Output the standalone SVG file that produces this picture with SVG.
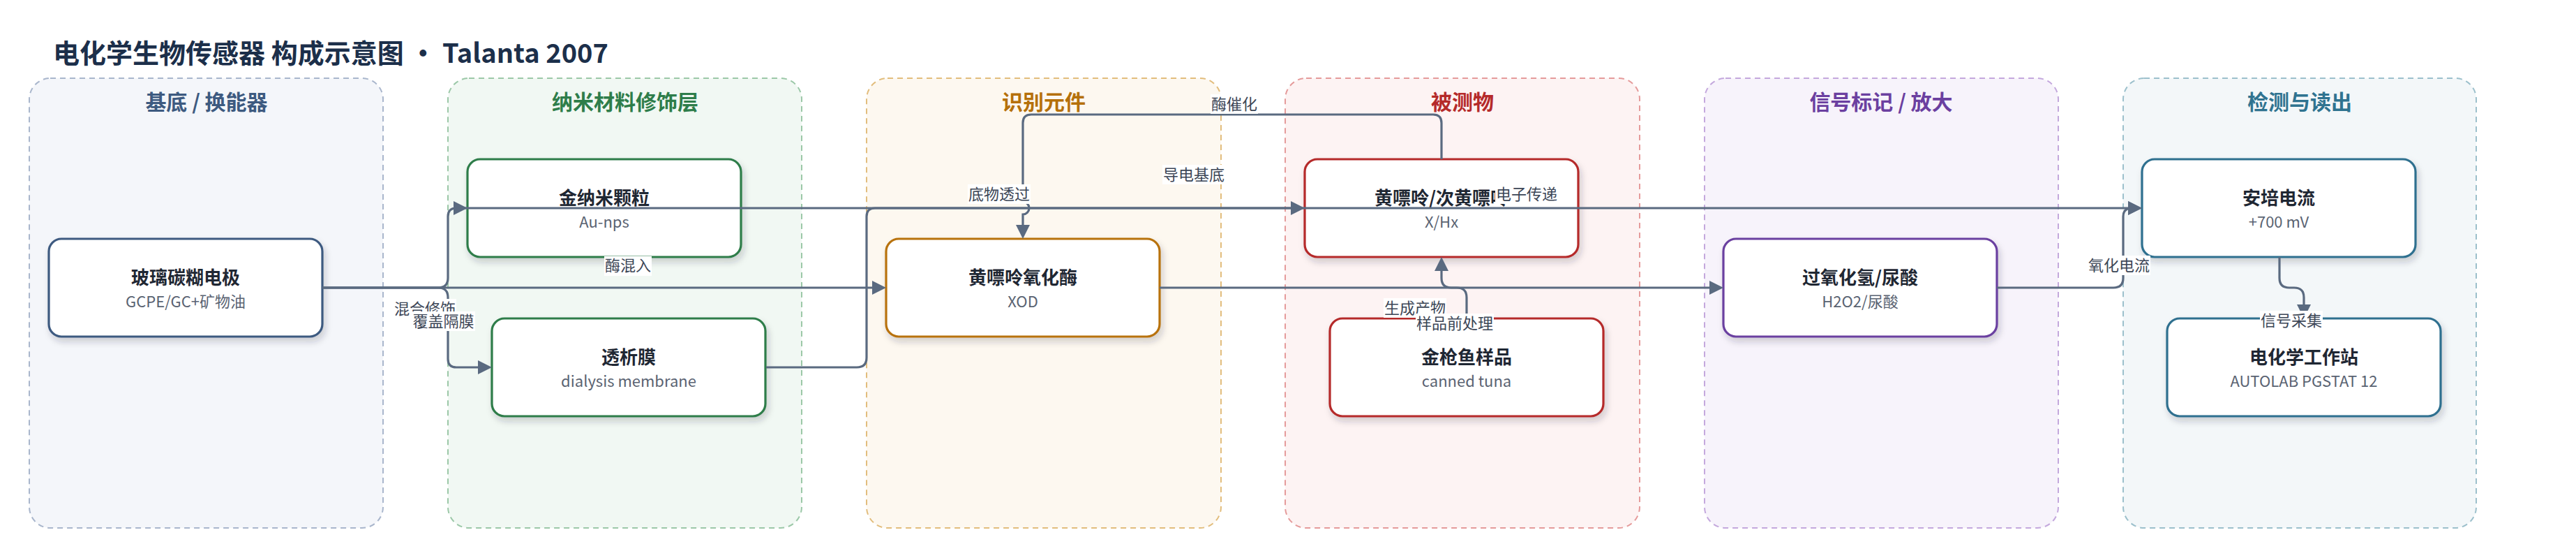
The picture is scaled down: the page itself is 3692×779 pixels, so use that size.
<svg xmlns="http://www.w3.org/2000/svg" width="3692" height="779" viewBox="0 0 3692 779">
<defs>
<style>
text{font-family:"Noto Sans CJK SC","Noto Sans",sans-serif}
.title{font-size:38px;font-weight:700;fill:#1c2f4a}
.grp{stroke-width:2;stroke-dasharray:8 6}
.gt{font-size:30px;font-weight:700;text-anchor:middle}
.node{fill:#ffffff;stroke-width:3.2;filter:url(#sh)}
.nt{font-size:26px;font-weight:700;fill:#1f2733;text-anchor:middle}
.ns{font-size:22px;fill:#5a6372;text-anchor:middle}
.edge{fill:none;stroke:#5a6a80;stroke-width:3.2;marker-end:url(#arr)}
.line{fill:none;stroke:#5a6a80;stroke-width:3.2}
.lb{fill:#ffffff}
.lt{font-size:22px;fill:#3c4656;text-anchor:middle}
</style>
<filter id="sh" x="-10%" y="-10%" width="125%" height="135%">
<feDropShadow dx="3" dy="6" stdDeviation="5" flood-color="#1f2937" flood-opacity="0.2"/>
</filter>
<marker id="arr" viewBox="0 0 20 20" refX="8" refY="10" markerWidth="20" markerHeight="20" markerUnits="userSpaceOnUse" orient="auto">
<path d="M0,0 L20,10 L0,20 z" fill="#5a6a80"/>
</marker>
</defs>
<rect width="3692" height="779" fill="#ffffff"/>
<text class="title" x="76" y="90">电化学生物传感器 构成示意图 · Talanta 2007</text>

<g id="groups">
<g id="g-base"><rect class="grp" x="42" y="112" width="507" height="644" rx="30" fill="#f4f6fa" stroke="#a9b6cc"/><text class="gt" x="296" y="157" fill="#3d5a80">基底 / 换能器</text></g>
<g id="g-nano"><rect class="grp" x="642" y="112" width="507" height="644" rx="30" fill="#f1f8f3" stroke="#9cc8a8"/><text class="gt" x="896" y="157" fill="#2e7d4a">纳米材料修饰层</text></g>
<g id="g-recog"><rect class="grp" x="1242" y="112" width="508" height="644" rx="30" fill="#fdf8f0" stroke="#e2bd7d"/><text class="gt" x="1496" y="157" fill="#b5700a">识别元件</text></g>
<g id="g-analyte"><rect class="grp" x="1842" y="112" width="508" height="644" rx="30" fill="#fdf3f3" stroke="#e59b9b"/><text class="gt" x="2096" y="157" fill="#b52a2a">被测物</text></g>
<g id="g-signal"><rect class="grp" x="2443" y="112" width="507" height="644" rx="30" fill="#f7f3fb" stroke="#c4a8dd"/><text class="gt" x="2696" y="157" fill="#6b3fa0">信号标记 / 放大</text></g>
<g id="g-detect"><rect class="grp" x="3043" y="112" width="506" height="644" rx="30" fill="#f3f7f9" stroke="#9cc0cc"/><text class="gt" x="3296" y="157" fill="#2f7390">检测与读出</text></g>
</g>

<g id="n-gcpe"><rect class="node" x="70" y="342" width="392" height="140" rx="18" stroke="#3d5a80"/><text class="nt" x="266" y="407">玻璃碳糊电极</text><text class="ns" x="266" y="440">GCPE/GC+矿物油</text></g>
<g id="n-au"><rect class="node" x="670" y="228" width="392" height="140" rx="18" stroke="#2e7d4a"/><text class="nt" x="866" y="293">金纳米颗粒</text><text class="ns" x="866" y="326">Au-nps</text></g>
<g id="n-dm"><rect class="node" x="705" y="456" width="392" height="140" rx="18" stroke="#2e7d4a"/><text class="nt" x="901" y="521">透析膜</text><text class="ns" x="901" y="554">dialysis membrane</text></g>
<g id="n-xod"><rect class="node" x="1270" y="342" width="392" height="140" rx="18" stroke="#b8720a"/><text class="nt" x="1466" y="407">黄嘌呤氧化酶</text><text class="ns" x="1466" y="440">XOD</text></g>
<g id="n-xhx"><rect class="node" x="1870" y="228" width="392" height="140" rx="18" stroke="#b52a2a"/><text class="nt" x="2066" y="293">黄嘌呤/次黄嘌呤</text><text class="ns" x="2066" y="326">X/Hx</text></g>
<g id="n-tuna"><rect class="node" x="1906" y="456" width="392" height="140" rx="18" stroke="#b52a2a"/><text class="nt" x="2102" y="521">金枪鱼样品</text><text class="ns" x="2102" y="554">canned tuna</text></g>
<g id="n-h2o2"><rect class="node" x="2470" y="342" width="392" height="140" rx="18" stroke="#6b3fa0"/><text class="nt" x="2666" y="407">过氧化氢/尿酸</text><text class="ns" x="2666" y="440">H2O2/尿酸</text></g>
<g id="n-amp"><rect class="node" x="3070" y="228" width="392" height="140" rx="18" stroke="#2f6f8f"/><text class="nt" x="3266" y="293">安培电流</text><text class="ns" x="3266" y="326">+700 mV</text></g>
<g id="n-ws"><rect class="node" x="3106" y="456" width="392" height="140" rx="18" stroke="#2f6f8f"/><text class="nt" x="3302" y="521">电化学工作站</text><text class="ns" x="3302" y="554">AUTOLAB PGSTAT 12</text></g>

<g id="connectors">
<path class="edge" d="M462 412 H628 Q642 412 642 398 V310 Q642 298 654 298 H658"/>
<path class="edge" d="M462 412 H628 Q642 412 642 426 V514 Q642 526 654 526 H693"/>
<path class="edge" d="M462 412 H1258"/>
<path class="edge" d="M1098 526 H1228 Q1242 526 1242 512 V310 Q1242 298 1254 298 H1858"/>
<path class="edge" d="M654 298 H3058"/>
<path class="edge" d="M2066 228 V176 Q2066 164 2054 164 H1478 Q1466 164 1466 176 V289 A9 9 0 0 1 1466 307 V330"/>
<path class="edge" d="M2102 456 V426 Q2102 412 2088 412 H2080 Q2066 412 2066 398 V380"/>
<path class="edge" d="M1662 412 H2458"/>
<path class="edge" d="M2862 412 H3029 Q3043 412 3043 398 V310 Q3043 298 3055 298 H3058"/>
<path class="edge" d="M3267 368 V398 Q3267 412 3281 412 H3288 Q3302 412 3302 426 V444"/>
</g>

<g id="labels">
<rect class="lb" x="564" y="428" width="90" height="28"/><text class="lt" x="609" y="450">混合修饰</text>
<rect class="lb" x="590" y="446" width="91" height="28"/><text class="lt" x="635.5" y="468">覆盖隔膜</text>
<rect class="lb" x="866" y="367" width="68" height="28"/><text class="lt" x="900" y="388">酶混入</text>
<rect class="lb" x="1387" y="264" width="90" height="28"/><text class="lt" x="1432" y="286">底物透过</text>
<rect class="lb" x="1666" y="236" width="90" height="28"/><text class="lt" x="1711" y="258">导电基底</text>
<rect class="lb" x="1735" y="135" width="68" height="28"/><text class="lt" x="1769" y="157">酶催化</text>
<rect class="lb" x="2143" y="264" width="90" height="28"/><text class="lt" x="2188" y="286">电子传递</text>
<rect class="lb" x="1983" y="427" width="90" height="28"/><text class="lt" x="2028" y="449">生成产物</text>
<rect class="lb" x="2029" y="449" width="112" height="28"/><text class="lt" x="2085" y="471">样品前处理</text>
<rect class="lb" x="2992" y="366" width="90" height="28"/><text class="lt" x="3037" y="388">氧化电流</text>
<rect class="lb" x="3239" y="445" width="90" height="28"/><text class="lt" x="3284" y="467">信号采集</text>
</g>
</svg>
